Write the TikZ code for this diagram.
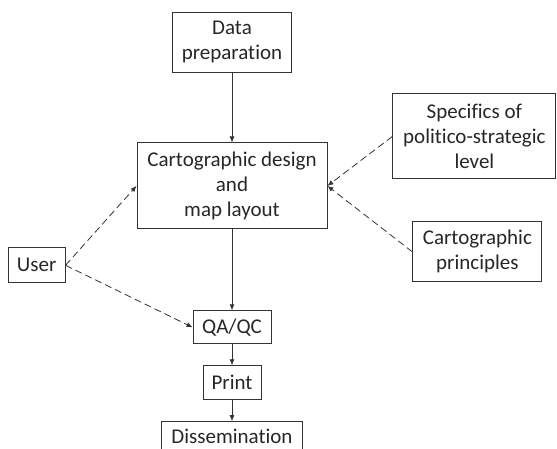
\documentclass[tikz,border=0pt]{standalone}
\usepackage{fontspec}
\setmainfont{Carlito}[Ligatures=CommonOff]
\usepackage{xcolor}
\usepackage{tikz}
\usetikzlibrary{positioning,arrows.meta}

\begin{document}
\begin{tikzpicture}[
    x=1pt, y=1pt,
    >={Latex[length=6pt,width=5pt]},
    font=\fontsize{21}{25}\selectfont,
    every node/.style={align=center, text=black!85},
    box/.style={draw=black!80, line width=0.9pt, rectangle, inner sep=2pt},
    flow/.style={->, draw=black!80, line width=0.8pt},
    hint/.style={->, draw=black!80, line width=0.8pt, dash pattern=on 7pt off 4pt}
]

\clip (0,0) rectangle (557,-449);

% Main chain
\node[
    box,
    minimum width=119pt,
    minimum height=60pt
] (data) at (232,-42) {Data\\preparation};

\node[
    box,
    minimum width=190pt,
    minimum height=86pt,
    below=70pt of data
] (design) {Cartographic design\\and\\map layout};

\node[
    box,
    minimum width=78pt,
    minimum height=33pt,
    below=81pt of design
] (qa) {QA/QC};

\node[
    box,
    minimum width=58pt,
    minimum height=34pt,
    below=21pt of qa
] (print) {Print};

\node[
    box,
    minimum width=141pt,
    minimum height=30pt,
    below=21pt of print
] (diss) {Dissemination};

% Inputs
\node[
    box,
    minimum width=57pt,
    minimum height=35pt,
    below left=18pt and 71pt of design
] (user) {User};

\node[
    box,
    minimum width=163pt,
    minimum height=85pt,
    right=65pt of design,
    yshift=49.5pt
] (specifics) {Specifics of\\politico-strategic\\level};

\node[
    box,
    minimum width=129pt,
    minimum height=60pt,
    right=85pt of design,
    yshift=-66pt
] (principles) {Cartographic\\principles};

% Connections
\draw[flow] (data) -- (design);
\draw[flow] (design) -- (qa);
\draw[flow] (qa) -- (print);
\draw[flow] (print) -- (diss);

\draw[hint] (user.east) -- (design.west);
\draw[hint] (user.east) -- (qa.west);
\draw[hint] (specifics.west) -- (design.east);
\draw[hint] (principles.west) -- (design.east);

\end{tikzpicture}
\end{document}
